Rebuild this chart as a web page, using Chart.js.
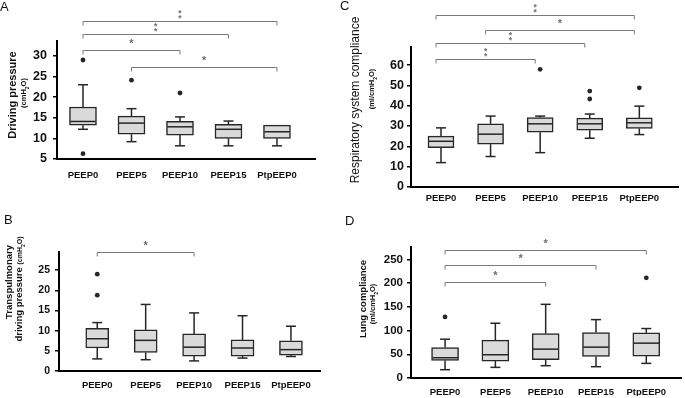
<!DOCTYPE html>
<html>
<head>
<meta charset="utf-8">
<script src="https://cdn.jsdelivr.net/npm/chart.js@4.4.1/dist/chart.umd.min.js"></script>
<style>
  body { margin: 0; background: #fff; }
  #fig { position: relative; width: 685px; height: 398px; overflow: hidden;
         font-family: "Liberation Sans", Arial, sans-serif; color: #111; }
  canvas { position: absolute; }
  .letter { position: absolute; font-size: 13px; line-height: 13px; }
  .yt { position: absolute; white-space: nowrap; line-height: 1;
        transform: translate(-50%, -50%) rotate(-90deg); }
  .small { font-size: 7px; font-weight: bold; }
</style>
</head>
<body>
<div id="fig">
  <canvas id="cA" width="340" height="196" style="left:0;top:0"></canvas>
  <canvas id="cB" width="340" height="202" style="left:0;top:196px"></canvas>
  <canvas id="cC" width="345" height="206" style="left:340px;top:0"></canvas>
  <canvas id="cD" width="345" height="192" style="left:340px;top:206px"></canvas>

  <div class="letter" style="left:0;top:0">A</div>
  <div class="letter" style="left:4px;top:213px">B</div>
  <div class="letter" style="left:340px;top:-1px">C</div>
  <div class="letter" style="left:345px;top:214px">D</div>

  <div class="yt" style="left:12px;top:95px;font-size:11px;font-weight:bold">Driving pressure</div>
  <div class="yt small" style="left:25px;top:93px;font-size:7.5px">(cmH<sub style="font-size:5px">2</sub>O)</div>

  <div class="yt" style="left:9px;top:282px;font-size:9.5px;font-weight:bold">Transpulmonary</div>
  <div class="yt" style="left:20px;top:289px;font-size:9.5px;font-weight:bold">driving pressure <span class="small">(cmH<sub style="font-size:5px">2</sub>O)</span></div>

  <div class="yt" style="left:355px;top:100px;font-size:12px">Respiratory system compliance</div>
  <div class="yt small" style="left:373px;top:89px;font-size:7.5px">(ml/cmH<sub style="font-size:5px">2</sub>O)</div>

  <div class="yt" style="left:363px;top:299px;font-size:9.5px;font-weight:bold">Lung compliance</div>
  <div class="yt small" style="left:374px;top:304px;font-size:7.5px">(ml/cmH<sub style="font-size:5px">2</sub>O)</div>
</div>
<script>
const cats = ["PEEP0", "PEEP5", "PEEP10", "PEEP15", "PtpEEP0"];

// A - driving pressure (cmH2O)
const drvLow  = [12.2, 9.2, 8.2, 8.2, 8.2];
const drvQ1   = [13.2, 11.0, 10.8, 10.0, 10.0];
const drvMed  = [14.1, 13.7, 12.8, 12.2, 11.6];
const drvQ3   = [17.6, 15.4, 14.1, 13.4, 13.2];
const drvHigh = [23.0, 17.2, 15.2, 14.2, 13.2];
const drvOut  = [[29.0, 6.3], [24.1], [21.0], [], []];
const drvTicks = [5, 10, 15, 20, 25, 30];
const drvSig = [[0, 4, "**"], [0, 3, "**"], [0, 2, "*"], [1, 4, "*"]];

// B - transpulmonary driving pressure (cmH2O)
const tpLow  = [3.0, 2.8, 2.5, 3.2, 3.6];
const tpQ1   = [5.7, 4.6, 3.7, 3.7, 3.9];
const tpMed  = [8.0, 7.6, 5.9, 5.7, 5.3];
const tpQ3   = [10.6, 10.2, 9.2, 7.7, 7.5];
const tpHigh = [12.0, 16.5, 14.4, 13.7, 11.1];
const tpOut  = [[24.0, 18.8], [], [], [], []];
const tpTicks = [0, 5, 10, 15, 20, 25];
const tpSig = [[0, 2, "*"]];

// C - respiratory system compliance (ml/cmH2O)
const crsLow  = [12.0, 15.0, 16.9, 24.0, 25.8];
const crsQ1   = [19.4, 21.1, 27.0, 28.0, 28.8];
const crsMed  = [22.5, 26.0, 31.1, 31.1, 31.6];
const crsQ3   = [25.0, 31.1, 34.2, 33.9, 34.0];
const crsHigh = [29.1, 34.9, 34.9, 35.9, 39.8];
const crsOut  = [[], [], [57.9], [47.2, 43.3], [48.8]];
const crsTicks = [0, 10, 20, 30, 40, 50, 60];
const crsSig = [[0, 4, "**"], [1, 4, "*"], [0, 3, "**"], [0, 2, "**"]];

// D - lung compliance (ml/cmH2O)
const clLow  = [17.5, 22.4, 25.9, 23.8, 30.8];
const clQ1   = [37.0, 35.7, 38.5, 45.5, 46.2];
const clMed  = [42.7, 49.0, 60.8, 65.0, 73.4];
const clQ3   = [64.3, 79.7, 93.7, 95.8, 95.1];
const clHigh = [81.8, 115.4, 155.2, 123.0, 104.2];
const clOut  = [[128.7], [], [], [], [211.0]];
const clTicks = [0, 50, 100, 150, 200, 250];
const clSig = [[0, 4, "*"], [0, 3, "*"], [0, 2, "*"]];

const FONT = "'Liberation Sans', Arial, sans-serif";
const Y_W = 40;

// whiskers, medians and significance brackets
function boxExtras(p) {
  return {
    id: "boxExtras",
    afterDatasetsDraw(chart) {
      const ctx = chart.ctx, xs = chart.scales.x, ys = chart.scales.y;
      const line = (x1, y1, x2, y2) => {
        ctx.beginPath(); ctx.moveTo(x1, y1); ctx.lineTo(x2, y2); ctx.stroke();
      };
      ctx.save();
      ctx.strokeStyle = "#262626";
      ctx.lineWidth = 1.5;
      p.low.forEach((lo, i) => {
        const cx = xs.getPixelForValue(i);
        const cap = 5, hw = p.boxW / 2 - 0.75;
        if (p.high[i] > p.q3[i]) {
          const yh = ys.getPixelForValue(p.high[i]);
          line(cx, ys.getPixelForValue(p.q3[i]), cx, yh);
          line(cx - cap, yh, cx + cap, yh);
        }
        if (lo < p.q1[i]) {
          const yl = ys.getPixelForValue(lo);
          line(cx, ys.getPixelForValue(p.q1[i]), cx, yl);
          line(cx - cap, yl, cx + cap, yl);
        }
        const ym = ys.getPixelForValue(p.med[i]);
        line(cx - hw, ym, cx + hw, ym);
      });

      ctx.strokeStyle = "#7a7a7a";
      ctx.fillStyle = "#6e6e6e";
      ctx.lineWidth = 1;
      ctx.textAlign = "center";
      p.sig.forEach(([a, b, mark], k) => {
        const yy = Math.round(ys.getPixelForValue(p.sigY[k])) + 0.5;
        const x1 = xs.getPixelForValue(a + p.sigShift);
        const x2 = xs.getPixelForValue(b + p.sigShift);
        ctx.beginPath();
        ctx.moveTo(x1, yy + 4); ctx.lineTo(x1, yy); ctx.lineTo(x2, yy); ctx.lineTo(x2, yy + 4);
        ctx.stroke();
        const mx = (x1 + x2) / 2;
        if (mark === "**") {
          ctx.font = "bold 8.5px " + FONT;
          ctx.fillText("*", mx, yy - 1);
          ctx.fillText("*", mx, yy - 5.5);
        } else {
          ctx.font = "bold 11px " + FONT;
          ctx.fillText("*", mx, yy - 4);
        }
      });
      ctx.restore();
    }
  };
}

function boxPanel(id, p) {
  const cv = p.canvas, ar = p.area;
  const outPts = p.out.flatMap((vs, i) => vs.map(v => ({ x: i, y: v })));
  new Chart(document.getElementById(id), {
    type: "bar",
    data: {
      datasets: [
        {
          type: "bar",
          data: p.q1.map((q, i) => ({ x: i, y: [q, p.q3[i]] })),
          backgroundColor: "#dadada",
          borderColor: "#262626",
          borderWidth: 1.5,
          borderSkipped: false,
          barThickness: p.boxW
        },
        {
          type: "scatter",
          data: outPts,
          pointRadius: 2.4,
          pointBackgroundColor: "#262626",
          pointBorderWidth: 0
        }
      ]
    },
    options: {
      responsive: false,
      animation: false,
      events: [],
      layout: {
        padding: {
          left: ar.l - cv.l - Y_W,
          top: ar.t - cv.t,
          right: cv.l + cv.w - ar.r,
          bottom: cv.t + cv.h - ar.b - p.xH
        }
      },
      plugins: { legend: { display: false }, tooltip: { enabled: false } },
      scales: {
        x: {
          type: "linear",
          offset: false,
          min: p.xMin,
          max: p.xMax,
          grid: { display: false, drawTicks: false, offset: false },
          border: { display: true, color: "#000", width: 2 },
          afterBuildTicks: s => { s.ticks = cats.map((c, i) => ({ value: i })); },
          afterFit: s => { s.height = p.xH; },
          ticks: {
            callback: v => cats[v],
            autoSkip: false,
            maxRotation: 0,
            padding: p.xPad,
            color: "#111",
            font: { family: FONT, size: 9.5, weight: "bold" }
          }
        },
        y: {
          min: p.yMin,
          max: p.yMax,
          grid: { display: true, drawOnChartArea: false, drawTicks: true,
                  tickLength: 4, color: "#000", lineWidth: 1.5 },
          border: { display: true, color: "#000", width: 2 },
          afterBuildTicks: s => { s.ticks = p.ticks.map(v => ({ value: v })); },
          afterFit: s => { s.width = Y_W; },
          ticks: {
            padding: p.yPad,
            color: "#111",
            font: { family: FONT, size: p.tickSize, weight: "bold" }
          }
        }
      }
    },
    plugins: [boxExtras(p)]
  });
}

boxPanel("cA", {
  low: drvLow, q1: drvQ1, med: drvMed, q3: drvQ3, high: drvHigh, out: drvOut,
  ticks: drvTicks, sig: drvSig, sigY: [38.5, 35.2, 31.4, 27.2], sigShift: 0,
  canvas: { l: 0, t: 0, w: 340, h: 196 }, area: { l: 57, t: 41, r: 315, b: 159 },
  xMin: -0.536, xMax: 4.784, yMin: 5, yMax: 33.6,
  boxW: 27, xH: 30, xPad: 10.5, yPad: 6, tickSize: 12.5
});

boxPanel("cB", {
  low: tpLow, q1: tpQ1, med: tpMed, q3: tpQ3, high: tpHigh, out: tpOut,
  ticks: tpTicks, sig: tpSig, sigY: [29.5], sigShift: 0,
  canvas: { l: 0, t: 196, w: 340, h: 202 }, area: { l: 59, t: 252, r: 320, b: 371 },
  xMin: -0.79, xMax: 4.6, yMin: 0, yMax: 29.5,
  boxW: 23, xH: 24, xPad: 9, yPad: 5, tickSize: 10.5
});

boxPanel("cC", {
  low: crsLow, q1: crsQ1, med: crsMed, q3: crsQ3, high: crsHigh, out: crsOut,
  ticks: crsTicks, sig: crsSig, sigY: [84.7, 77.3, 70.7, 63], sigShift: -0.1,
  canvas: { l: 340, t: 0, w: 345, h: 206 }, area: { l: 411, t: 47, r: 678, b: 187 },
  xMin: -0.605, xMax: 4.78, yMin: 0, yMax: 68.9,
  boxW: 26, xH: 16, xPad: 6, yPad: 3, tickSize: 12.5
});

boxPanel("cD", {
  low: clLow, q1: clQ1, med: clMed, q3: clQ3, high: clHigh, out: clOut,
  ticks: clTicks, sig: clSig, sigY: [269, 237.8, 202.8], sigShift: 0,
  canvas: { l: 340, t: 206, w: 345, h: 192 }, area: { l: 411, t: 247, r: 683, b: 378 },
  xMin: -0.677, xMax: 4.69, yMin: 0, yMax: 276,
  boxW: 27, xH: 18, xPad: 8.5, yPad: 4, tickSize: 11.5
});
</script>
</body>
</html>
